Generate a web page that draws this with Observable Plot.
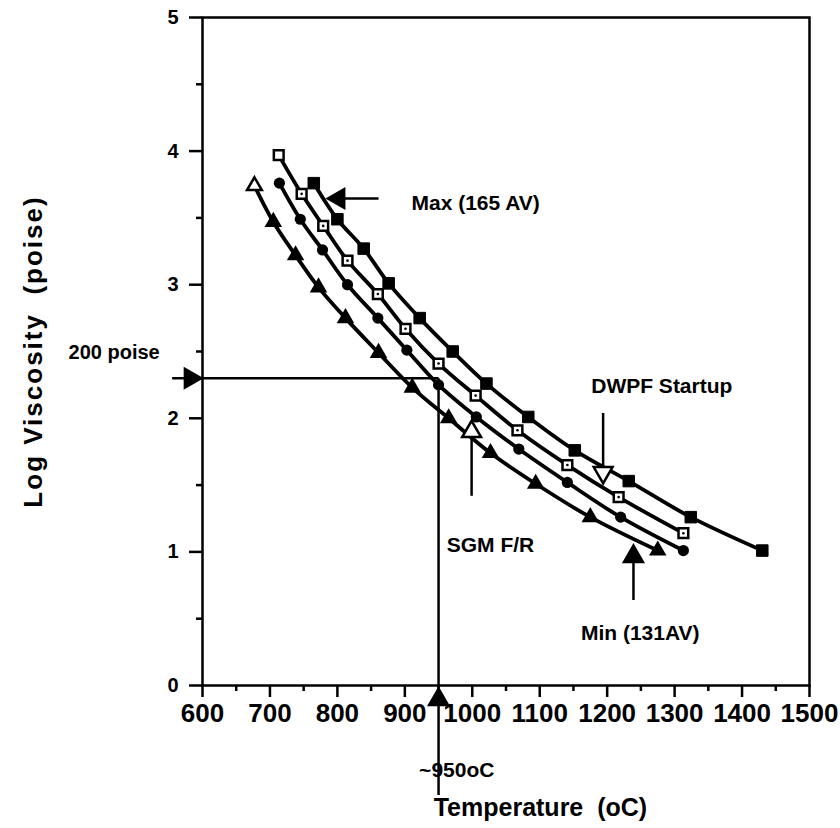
<!DOCTYPE html>
<html><head><meta charset="utf-8">
<script src="https://cdn.jsdelivr.net/npm/d3@7"></script>
<script src="https://cdn.jsdelivr.net/npm/@observablehq/plot@0.6"></script>
<style>
body{margin:0;background:#fff}
#chart svg{font-family:"Liberation Sans",Arial,Helvetica,sans-serif;overflow:visible}
</style>
</head><body><div id="chart"></div>
<script>
// Temperature (oC) and Log Viscosity (poise) for the four glass curves
const maxTemp = [765, 800, 839, 876, 922, 971, 1021, 1083, 1152, 1232, 1324, 1430];
const maxLogV = [3.76, 3.49, 3.27, 3.01, 2.75, 2.50, 2.26, 2.01, 1.76, 1.53, 1.26, 1.01];
const openSqTemp = [713, 747, 779, 815, 860, 901, 950, 1005, 1067, 1141, 1217, 1313];
const openSqLogV = [3.97, 3.68, 3.44, 3.18, 2.93, 2.67, 2.41, 2.17, 1.91, 1.65, 1.41, 1.14];
const circleTemp = [714, 745, 778, 815, 860, 903, 950, 1006, 1069, 1141, 1220, 1313];
const circleLogV = [3.76, 3.49, 3.26, 3.00, 2.75, 2.51, 2.25, 2.01, 1.77, 1.52, 1.26, 1.01];
const minTemp = [677, 705, 738, 772, 812, 861, 911, 965, 1027, 1094, 1175, 1275];
const minLogV = [3.74, 3.47, 3.22, 2.98, 2.75, 2.49, 2.23, 2.00, 1.74, 1.51, 1.26, 1.01];

const xTicks = [600, 700, 800, 900, 1000, 1100, 1200, 1300, 1400, 1500];
const xMinorTicks = [650, 750, 850, 950, 1050, 1150, 1250, 1350, 1450];
const yTicks = [0, 1, 2, 3, 4, 5];
const yMinorTicks = [0.5, 1.5, 2.5, 3.5, 4.5];

// annotation arrows (data coordinates) and labels
const arrowLines = [
  {x1: 861, y1: 3.645, x2: 805, y2: 3.645},   // Max
  {x1: 555, y1: 2.30, x2: 950, y2: 2.30},     // 200 poise
  {x1: 950, y1: 2.30, x2: 950, y2: -0.82},    // ~950oC
  {x1: 999, y1: 1.42, x2: 999, y2: 1.90},     // SGM F/R
  {x1: 1194, y1: 2.04, x2: 1194, y2: 1.60},   // DWPF Startup
  {x1: 1239, y1: 0.64, x2: 1239, y2: 0.97}    // Min
];
const arrowHeads = [
  {x: 802, y: 3.645, rot: -90, fill: "black"},
  {x: 582, y: 2.30, rot: 90, fill: "black"},
  {x: 950, y: -0.105, rot: 0, fill: "black"},
  {x: 999, y: 1.90, rot: 0, fill: "white"},
  {x: 1194, y: 1.594, rot: 180, fill: "white"},
  {x: 1239, y: 0.966, rot: 0, fill: "black"}
];
const labels = [
  {x: 1005, y: 3.61, text: "Max (165 AV)"},
  {x: 1281, y: 2.24, text: "DWPF Startup"},
  {x: 1027, y: 1.05, text: "SGM F/R"},
  {x: 1249, y: 0.39, text: "Min (131AV)"},
  {x: 977, y: -0.636, text: "~950oC"}
];

const toRows = (t, v) => t.map((d, i) => ({t: d, v: v[i], i}));
const maxRows = toRows(maxTemp, maxLogV);
const openRows = toRows(openSqTemp, openSqLogV);
const circRows = toRows(circleTemp, circleLogV);
const minRows = toRows(minTemp, minLogV);

const lineOpts = {x: "t", y: "v", curve: "catmull-rom", stroke: "black", strokeWidth: 3.8};

const chart = Plot.plot({
  width: 840, height: 828,
  marginLeft: 202, marginRight: 31, marginTop: 17, marginBottom: 143,
  x: {domain: [600, 1500]},
  y: {domain: [0, 5]},
  style: {background: "white", color: "black"},
  marks: [
    Plot.frame({stroke: "black", strokeWidth: 2.5}),
    Plot.axisX(xTicks, {tickSize: 12, tickPadding: 6, fontSize: 26, fontWeight: "bold", strokeWidth: 2.5, label: null, tickFormat: d => String(d)}),
    Plot.axisX(xMinorTicks, {tickSize: 6, strokeWidth: 2.5, label: null, tickFormat: () => ""}),
    Plot.axisY(yTicks, {tickSize: 13, tickPadding: 11, fontSize: 20, fontWeight: "bold", strokeWidth: 2.5, label: null, tickFormat: d => String(d)}),
    Plot.axisY(yMinorTicks, {tickSize: 6, strokeWidth: 2.5, label: null, tickFormat: () => ""}),
    Plot.line(maxRows, lineOpts),
    Plot.line(openRows, lineOpts),
    Plot.line(circRows, lineOpts),
    Plot.line(minRows, lineOpts),
    Plot.dot(maxRows, {x: "t", y: "v", symbol: "square", r: 6.5, fill: "black", stroke: "black", strokeWidth: 1}),
    Plot.dot(openRows, {x: "t", y: "v", symbol: "square", r: 5.5, fill: "white", stroke: "black", strokeWidth: 2.5}),
    Plot.dot(openRows.filter(d => d.i > 0), {x: "t", y: "v", r: 1.3, fill: "black"}),
    Plot.dot(circRows, {x: "t", y: "v", symbol: "circle", r: 5.6, fill: "black"}),
    Plot.dot(minRows.filter(d => d.i > 0), {x: "t", y: "v", symbol: "triangle", r: 6.5, fill: "black"}),
    Plot.dot(minRows.filter(d => d.i === 0), {x: "t", y: "v", symbol: "triangle", r: 5.5, fill: "white", stroke: "black", strokeWidth: 2.5}),
    Plot.link(arrowLines, {x1: "x1", y1: "y1", x2: "x2", y2: "y2", stroke: "black", strokeWidth: 2.5}),
    Plot.dot(arrowHeads, {x: "x", y: "y", rotate: "rot", symbol: "triangle", r: 7, fill: "fill", stroke: "black", strokeWidth: 2.5}),
    Plot.text(labels, {x: "x", y: "y", text: "text", fontSize: 21, fontWeight: "bold", textAnchor: "middle"}),
    Plot.text(["200 poise"], {x: 469, y: 2.49, fontSize: 20, fontWeight: "bold"}),
    Plot.text(["Temperature  (oC)"], {x: 1101, y: -0.92, fontSize: 25, fontWeight: "bold"}),
    Plot.text(["Log Viscosity  (poise)"], {x: 349, frameAnchor: "middle", rotate: -90, fontSize: 26, fontWeight: "bold"})
  ]
});
chart.querySelectorAll("text").forEach(t => {
  if (t.textContent.startsWith("Log Viscosity")) t.setAttribute("letter-spacing", "2");
});
document.getElementById("chart").append(chart);
</script>
</body></html>
